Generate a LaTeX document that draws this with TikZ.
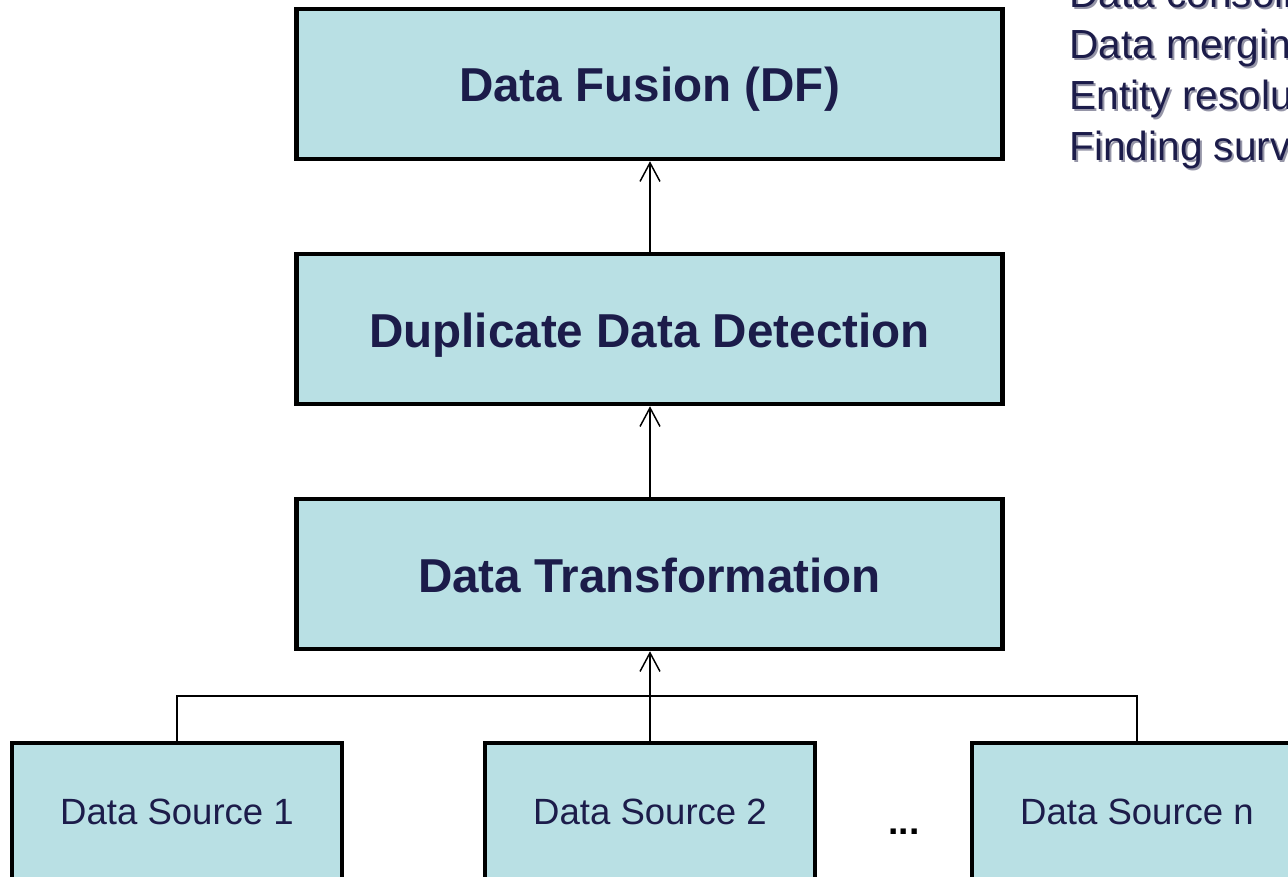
\documentclass[tikz,border=0pt]{standalone}
\usepackage{fontspec}
\setmainfont{Liberation Sans}
\usetikzlibrary{arrows.meta}
\definecolor{boxfill}{RGB}{185,224,228}
\definecolor{ink}{RGB}{28,28,74}
\definecolor{shade}{RGB}{150,150,168}

\begin{document}
\begin{tikzpicture}[x=0.75pt,y=-0.75pt,
  stage/.style={draw=black, line width=3.4pt, fill=boxfill,
    minimum width=529.5pt, minimum height=112.5pt, inner sep=0pt,
    text height=27pt, text depth=0pt,
    text=ink, font=\fontsize{35.7}{42}\selectfont\bfseries},
  source/.style={draw=black, line width=3.4pt, fill=boxfill,
    minimum width=247.5pt, minimum height=103.5pt, inner sep=0pt,
    text=ink, font=\fontsize{27.4}{32}\selectfont},
  link/.style={line width=1.2pt},
  flow/.style={link, -{Straight Barb[length=14pt,width=15pt,line width=1.1pt]}},
  note/.style={anchor=base west, inner sep=0pt, text=ink,
    font=\fontsize{30.5}{36}\selectfont},
  noteshade/.style={note, text=shade},
]
\useasboundingbox (0,0) rectangle (1288,877);
\clip (0,0) rectangle (1288,877);

% processing stages
\node[stage] (df)  at (649.5,84)  {Data Fusion (DF)};
\node[stage] (ddd) at (649.5,329) {Duplicate Data Detection};
\node[stage] (dt)  at (649.5,574) {Data Transformation};

% data sources
\node[source] (s1) at (177,812)  {Data Source 1};
\node[source] (s2) at (650,812)  {Data Source 2};
\node[source] (sn) at (1137,812) {Data Source n};
\node[anchor=base, inner sep=0pt, font=\fontsize{28}{32}\selectfont\bfseries] (dots) at (904,834) {...};

% source bus and upward flow
\coordinate (bus) at (0,696);
\draw[link] (s1.north) -- (s1.north |- bus) -- (sn.north |- bus) -- (sn.north);
\draw[flow] (s2.north) -- (s2.north |- dt.south);
\draw[flow] (dt.north -| s2.north) -- (ddd.south -| s2.north);
\draw[flow] (ddd.north -| s2.north) -- (df.south -| s2.north);

% list of fusion tasks, with a soft drop shadow
\foreach \t/\y/\n in {Data consolidation/8/a, Data merging/59/b,
                      Entity resolution/110/c, Finding survivors/161/d}{
  \node[noteshade] (t\n s) at (1071,\y+2) {\t};
  \node[note] (t\n) at (1069,\y) {\t};
}
\end{tikzpicture}
\end{document}
